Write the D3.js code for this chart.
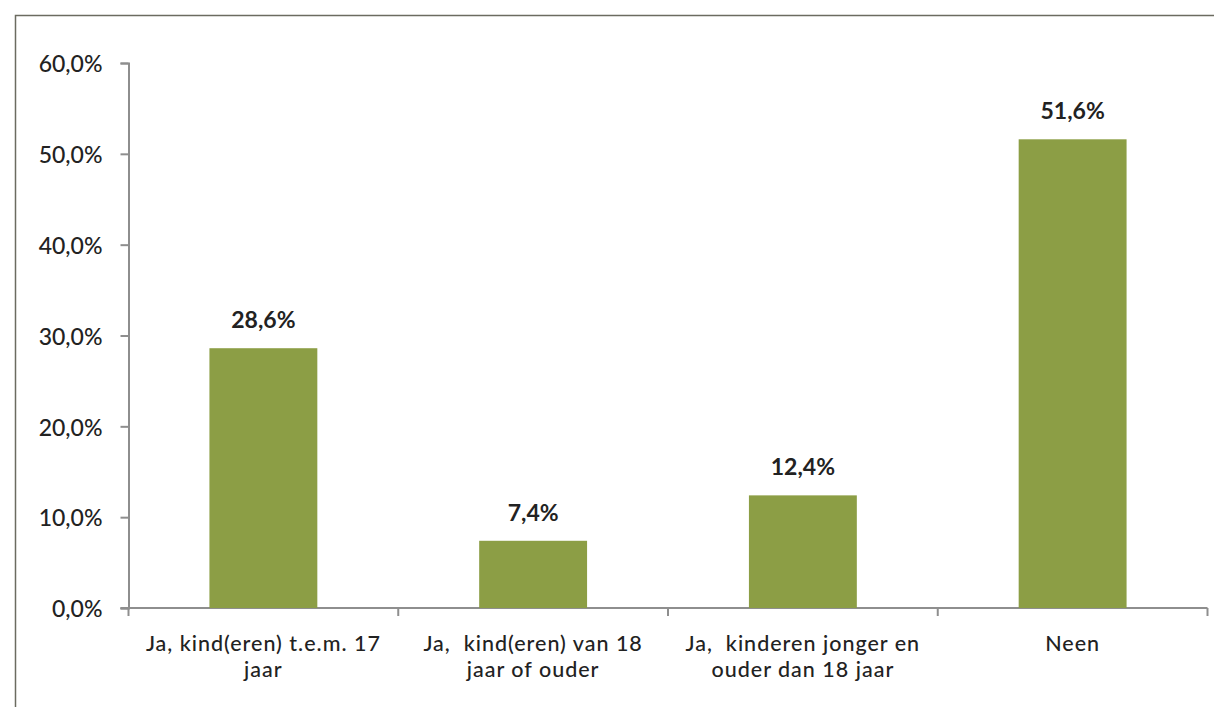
<!DOCTYPE html>
<html><head><meta charset="utf-8">
<script src="https://cdn.jsdelivr.net/npm/d3@7"></script>
<style>body{margin:0;background:#fff}svg{display:block}text{white-space:pre}</style>
</head><body>
<script>
const categories = [
  ["Ja, kind(eren) t.e.m. 17", "jaar"],
  ["Ja,  kind(eren) van 18", "jaar of ouder"],
  ["Ja,  kinderen jonger en", "ouder dan 18 jaar"],
  ["Neen"]
];
const values = [28.6, 7.4, 12.4, 51.6];
const valueLabels = ["28,6%", "7,4%", "12,4%", "51,6%"];
const yTicks = [0, 10, 20, 30, 40, 50, 60];
const yTickLabels = ["0,0%", "10,0%", "20,0%", "30,0%", "40,0%", "50,0%", "60,0%"];

const W = 1214, H = 707;
const svg = d3.select("body").append("svg").attr("width", W).attr("height", H);
const font = "Lato, 'Open Sans', sans-serif";
const fs = 23;
const txtColor = "#222";

// frame
svg.append("path").attr("d", `M15.5,${H} L15.5,15.5 L${W},15.5`)
  .attr("fill","none").attr("stroke","#6b6b60").attr("stroke-width",1.5);

const x0 = 128.5, x1 = 1207.5, yTop = 63, yBot = 608;
const idx = d3.range(categories.length);
const x = d3.scaleBand().domain(idx).range([x0, x1]).paddingInner(0.6).paddingOuter(0.3);
const y = d3.scaleLinear().domain([0, 60]).range([yBot, yTop]);

const axisColor = "#8e8e8e";
// y axis
const yAxis = d3.axisLeft(y).tickValues(yTicks).tickFormat((d,i)=>yTickLabels[i]).tickSizeOuter(0).tickSize(8).tickPadding(18);
const gy = svg.append("g").attr("transform", `translate(${x0},0)`).call(yAxis);
gy.select(".domain").attr("stroke", axisColor).attr("stroke-width", 2);
gy.selectAll(".tick line").attr("stroke", axisColor).attr("stroke-width", 2);
gy.selectAll(".tick text").attr("font-family", font).attr("font-size", fs).attr("fill", txtColor)
  .attr("font-weight", 500).attr("dy", "0.38em");

// x axis line and ticks at band boundaries
const step = x.step();
const bounds = d3.range(categories.length + 1).map(i => x0 + i * step);
svg.append("line").attr("x1", x0 - 8).attr("x2", x1).attr("y1", yBot).attr("y2", yBot)
  .attr("stroke", axisColor).attr("stroke-width", 2);
svg.selectAll(".xt").data(bounds).enter().append("line")
  .attr("x1", d=>d).attr("x2", d=>d).attr("y1", yBot).attr("y2", yBot + 8)
  .attr("stroke", axisColor).attr("stroke-width", 2);

// bars
svg.selectAll(".bar").data(values).enter().append("rect")
  .attr("x", (d,i)=>x(i)).attr("width", x.bandwidth())
  .attr("y", d=>y(d)).attr("height", d=>yBot - y(d))
  .attr("fill", "#8c9e45");

// value labels
svg.selectAll(".vl").data(values).enter().append("text")
  .attr("x", (d,i)=>x(i) + x.bandwidth()/2).attr("y", d=>y(d) - 20)
  .attr("text-anchor","middle").attr("font-family", font).attr("font-size", fs)
  .attr("font-weight", 700).attr("fill", txtColor).text((d,i)=>valueLabels[i]);

// category labels (one text per line)
categories.forEach((lines, i) => {
  lines.forEach((ln, j) => {
    svg.append("text").attr("text-anchor","middle").attr("font-family", font)
      .attr("font-size", 21.5).attr("font-weight", 500).attr("fill", txtColor)
      .attr("letter-spacing", 1)
      .attr("x", x(i) + x.bandwidth()/2).attr("y", 651 + j*26).text(ln);
  });
});
</script>
</body></html>
